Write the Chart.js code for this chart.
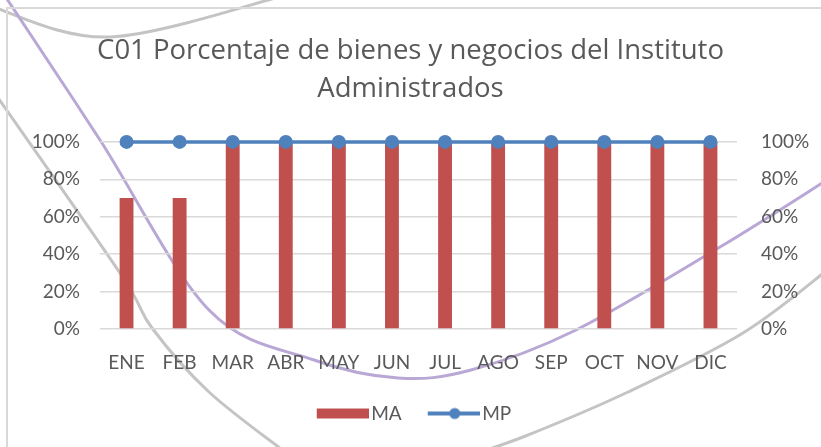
<!DOCTYPE html>
<html>
<head>
<meta charset="utf-8">
<script src="https://cdn.jsdelivr.net/npm/chart.js@4.4.0/dist/chart.umd.min.js"></script>
<style>
  html, body { margin: 0; padding: 0; background: #fff; }
</style>
</head>
<body>
<canvas id="out" width="821" height="447"></canvas>
<script>
const meses = ["ENE", "FEB", "MAR", "ABR", "MAY", "JUN", "JUL", "AGO", "SEP", "OCT", "NOV", "DIC"];
const valoresMA = [0.70, 0.70, 1, 1, 1, 1, 1, 1, 1, 1, 1, 1];
const valoresMP = [1, 1, 1, 1, 1, 1, 1, 1, 1, 1, 1, 1];
const titulo = ["C01 Porcentaje de bienes y negocios del Instituto", "Administrados"];

const rojo = "#C0504D";
const azul = "#4F81BD";
const gris = "#595959";
const fuente = "Lato";

// simbolos de la leyenda (al estilo Excel)
function simboloBarra() {
  const c = document.createElement("canvas");
  c.width = 66; c.height = 14;
  const g = c.getContext("2d");
  g.fillStyle = rojo;
  g.fillRect(14, 2, 52, 10);
  return c;
}
function simboloLinea() {
  const c = document.createElement("canvas");
  c.width = 66; c.height = 14;
  const g = c.getContext("2d");
  g.strokeStyle = azul;
  g.lineWidth = 4;
  g.beginPath(); g.moveTo(14, 7); g.lineTo(66, 7); g.stroke();
  g.fillStyle = azul;
  g.beginPath(); g.arc(41, 7, 5.5, 0, Math.PI * 2); g.fill();
  return c;
}
const simbolos = [simboloBarra(), simboloLinea()];

// fondo decorativo de la diapositiva (curvas y marco)
function curva(ctx, pts) {
  ctx.beginPath();
  ctx.moveTo(pts[0][0], pts[0][1]);
  for (let i = 0; i < pts.length - 1; i++) {
    const p0 = pts[i - 1] || pts[i], p1 = pts[i], p2 = pts[i + 1], p3 = pts[i + 2] || p2;
    ctx.bezierCurveTo(p1[0] + (p2[0] - p0[0]) / 6, p1[1] + (p2[1] - p0[1]) / 6,
                      p2[0] - (p3[0] - p1[0]) / 6, p2[1] - (p3[1] - p1[1]) / 6, p2[0], p2[1]);
  }
  ctx.stroke();
}
const fondo = {
  id: "fondo",
  beforeDraw(chart) {
    const ctx = chart.ctx;
    ctx.save();
    ctx.fillStyle = "#fff";
    ctx.fillRect(0, 0, chart.width, chart.height);
    ctx.lineCap = "round";
    ctx.lineWidth = 3;
    ctx.strokeStyle = "#C4C4C4";
    curva(ctx, [[-10, 6], [110, 37], [290, -6]]);
    curva(ctx, [[-6, 92], [120, 273], [152, 328], [209, 392], [285, 452]]);
    curva(ctx, [[830, 268], [743, 333], [628, 392], [523, 437], [470, 455]]);
    ctx.strokeStyle = "#B9A8D6";
    curva(ctx, [[5, -4], [100, 140], [209, 310], [314, 360], [398, 378], [471, 370],
                [576, 330], [720, 247], [830, 178]]);
    ctx.lineWidth = 2;
    ctx.strokeStyle = "#D9D9D9";
    ctx.beginPath();
    ctx.moveTo(7, 447); ctx.lineTo(7, 8); ctx.lineTo(821, 8);
    ctx.stroke();
    ctx.restore();
  }
};

const pct = v => Math.round(v * 100) + "%";

new Chart(document.getElementById("out").getContext("2d"), {
  data: {
    labels: meses,
    datasets: [
      {
        type: "bar",
        label: "MA",
        data: valoresMA,
        backgroundColor: rojo,
        categoryPercentage: 0.29,
        barPercentage: 0.9,
        yAxisID: "y",
        order: 1
      },
      {
        type: "line",
        label: "MP",
        data: valoresMP,
        borderColor: azul,
        backgroundColor: azul,
        borderWidth: 3.5,
        pointRadius: 7,
        pointBackgroundColor: azul,
        pointBorderWidth: 0,
        clip: false,
        yAxisID: "y2",
        order: 0
      }
    ]
  },
  options: {
    responsive: false,
    animation: false,
    layout: { padding: { left: 0, right: 0, top: 0, bottom: 14 } },
    scales: {
      x: {
        grid: { display: false },
        border: { display: false },
        ticks: { color: gris, font: { family: fuente, size: 19 }, padding: 14 },
        afterFit: s => { s.height = 56; }
      },
      y: {
        position: "left",
        min: 0, max: 1,
        ticks: { stepSize: 0.2, callback: pct, color: gris, font: { family: fuente, size: 19 }, padding: 20 },
        grid: { color: "#D9D9D9", lineWidth: 1.5, drawTicks: false },
        border: { display: false },
        afterFit: s => { s.width = 100; }
      },
      y2: {
        position: "right",
        min: 0, max: 1,
        ticks: { stepSize: 0.2, callback: pct, color: gris, font: { family: fuente, size: 19 }, padding: 24 },
        grid: { display: false, drawTicks: false },
        border: { display: false },
        afterFit: s => { s.width = 84; }
      }
    },
    plugins: {
      title: {
        display: true,
        text: titulo,
        color: gris,
        font: { family: "Open Sans", size: 27.5, weight: "normal", lineHeight: 1.38 },
        padding: { top: 32, bottom: 34 }
      },
      legend: {
        position: "bottom",
        labels: {
          usePointStyle: true,
          pointStyleWidth: 52,
          padding: 19,
          color: gris,
          font: { family: fuente, size: 19 },
          sort: (a, b) => a.datasetIndex - b.datasetIndex,
          generateLabels: chart =>
            Chart.defaults.plugins.legend.labels.generateLabels(chart).map(it =>
              Object.assign(it, { pointStyle: simbolos[it.datasetIndex] }))
        }
      },
      tooltip: { enabled: false }
    }
  },
  plugins: [fondo]
});
</script>
</body>
</html>
